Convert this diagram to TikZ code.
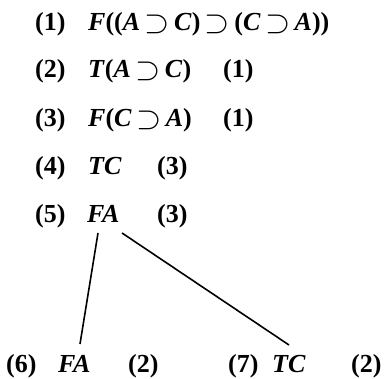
\documentclass[tikz,border=0pt]{standalone}
\usepackage{amsmath}
\usepackage{graphicx}
\usepackage{fontspec}
\setmainfont{Liberation Serif}
\newcommand{\imp}{\hspace{0.17em}\raisebox{-0.07em}{\scalebox{1.3}{$\supset$}}\hspace{0.17em}}
\begin{document}
\begin{tikzpicture}[x=1pt,y=-1pt,
  every node/.style={inner sep=0pt,anchor=base west,font=\fontsize{26}{30}\selectfont\bfseries},
  tl/.style={line width=1.6pt}]
\useasboundingbox (0,0) rectangle (386,379);
\node (n1) at (35,31) {(1)};
\node (f1) at (88,31) {\textit{F}((\textit{A}\imp\textit{C})\imp(\textit{C}\imp\textit{A}))};
\node (n2) at (35,78) {(2)};
\node (f2) at (88,78) {\textit{T}(\textit{A}\imp\textit{C})};
\node (r2) at (223,78) {(1)};
\node (n3) at (35,127) {(3)};
\node (f3) at (88,127) {\textit{F}(\textit{C}\imp\textit{A})};
\node (r3) at (223,127) {(1)};
\node (n4) at (35,175) {(4)};
\node (f4) at (88,175) {\textit{TC}};
\node (r4) at (157,175) {(3)};
\node (n5) at (35,223) {(5)};
\node (f5) at (87,223) {\textit{FA}};
\node (r5) at (157,223) {(3)};
\node (n6) at (6,373) {(6)};
\node (f6) at (58,373) {\textit{FA}};
\node (r6) at (128,373) {(2)};
\node (n7) at (228,373) {(7)};
\node (f7) at (272,373) {\textit{TC}};
\node (r7) at (351,373) {(2)};
\coordinate (a1) at (98,233);
\coordinate (b1) at (80,344);
\coordinate (a2) at (122,233);
\coordinate (b2) at (289,345);
\draw[tl] (a1) -- (b1);
\draw[tl] (a2) -- (b2);
\end{tikzpicture}
\end{document}
